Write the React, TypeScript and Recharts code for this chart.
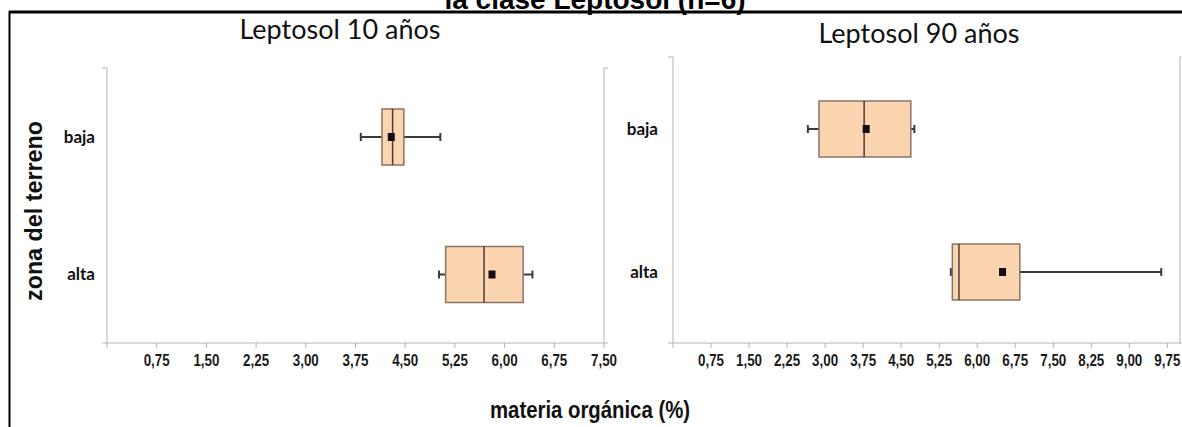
import React from 'react';
import { ComposedChart, Bar, XAxis, YAxis } from 'recharts';

const zonas = ['baja', 'alta'];

// Leptosol 10 años
const min10 = [3.83, 5.01];
const q1_10 = [4.15, 5.11];
const med10 = [4.31, 5.69];
const q3_10 = [4.48, 6.28];
const max10 = [5.03, 6.42];
const mean10 = [4.29, 5.81];

// Leptosol 90 años
const min90 = [2.66, 5.48];
const q1_90 = [2.88, 5.51];
const med90 = [3.77, 5.64];
const q3_90 = [4.69, 6.84];
const max90 = [4.76, 9.63];
const mean90 = [3.81, 6.5];

const ticks10 = [0, 0.75, 1.5, 2.25, 3, 3.75, 4.5, 5.25, 6, 6.75, 7.5];
const ticks90 = [0, 0.75, 1.5, 2.25, 3, 3.75, 4.5, 5.25, 6, 6.75, 7.5, 8.25, 9, 9.75];
const edgeTicks = [0, 1, 2];
const minorTicks = [0, 1, 2, 3, 4, 5, 6, 7, 8, 9, 10];

const build = (mn: number[], q1: number[], md: number[], q3: number[], mx: number[], mean: number[]) =>
  zonas.map((zona, i) => ({ zona, min: mn[i], q1: q1[i], median: md[i], q3: q3[i], max: mx[i], mean: mean[i] }));

const data10 = build(min10, q1_10, med10, q3_10, max10, mean10);
const data90 = build(min90, q1_90, med90, q3_90, max90, mean90);

const AXIS = '#b4b4b4';
const sans = '"Liberation Sans", Arial, sans-serif';

const fmt = (v: number) => (v === 0 ? '' : v.toFixed(2).replace('.', ','));

const EmptyTick = () => <g />;

function XTick({ x, y, payload }: any) {
  const label = fmt(payload.value);
  if (!label) return <g />;
  return (
    <text
      x={x}
      y={y}
      dy={12}
      textAnchor="middle"
      fontFamily={sans}
      fontWeight="bold"
      fontSize={16}
      fill="#1a1a1a"
      textLength={26}
      lengthAdjust="spacingAndGlyphs"
    >
      {label}
    </text>
  );
}

function BoxShape(props: any) {
  const { x, y, width, height, payload } = props;
  const k = width / (payload.max - payload.min);
  const px = (v: number) => x + (v - payload.min) * k;
  const cy = y + height / 2;
  const capH = 8;
  return (
    <g>
      <line x1={px(payload.min)} x2={px(payload.q1)} y1={cy} y2={cy} stroke="#3a3a3a" strokeWidth={2} />
      <line x1={px(payload.q3)} x2={px(payload.max)} y1={cy} y2={cy} stroke="#3a3a3a" strokeWidth={2} />
      <line x1={px(payload.min)} x2={px(payload.min)} y1={cy - capH / 2} y2={cy + capH / 2} stroke="#3a3a3a" strokeWidth={2} />
      <line x1={px(payload.max)} x2={px(payload.max)} y1={cy - capH / 2} y2={cy + capH / 2} stroke="#3a3a3a" strokeWidth={2} />
      <rect
        x={px(payload.q1)}
        y={y}
        width={px(payload.q3) - px(payload.q1)}
        height={height}
        fill="#fbd4b0"
        stroke="#8a7466"
        strokeWidth={1.5}
      />
      <line x1={px(payload.median)} x2={px(payload.median)} y1={y} y2={y + height} stroke="#4a3c38" strokeWidth={1.5} />
      <rect x={px(payload.mean) - 3.5} y={cy - 4} width={7} height={8} fill="#160c18" />
    </g>
  );
}

function Panel({ data, ticks, max, width, top, catWidth, rightMargin, tickMargin }: any) {
  return (
    <ComposedChart
      width={width}
      height={427}
      data={data}
      layout="vertical"
      margin={{ top, right: rightMargin, bottom: 54, left: 0 }}
    >
      <XAxis
        type="number"
        domain={[0, max]}
        ticks={ticks}
        interval={0}
        height={30}
        tickSize={5}
        tickMargin={6}
        stroke={AXIS}
        tick={<XTick />}
      />
      <YAxis
        yAxisId="cat"
        type="category"
        dataKey="zona"
        width={catWidth}
        stroke={AXIS}
        tickLine={false}
        tickMargin={tickMargin}
        tick={{ fontFamily: 'Lato, "Open Sans", sans-serif', fontWeight: 'bold', fontSize: 17, fill: '#111' }}
      />
      <YAxis
        yAxisId="edge"
        type="number"
        domain={[0, 2]}
        ticks={edgeTicks}
        interval={0}
        allowDataOverflow
        mirror
        tickSize={-5}
        axisLine={false}
        tick={<EmptyTick />}
        stroke={AXIS}
      />
      <YAxis
        yAxisId="minor"
        orientation="right"
        type="number"
        domain={[0, 10]}
        ticks={minorTicks}
        interval={0}
        allowDataOverflow
        width={10}
        tickSize={4}
        tick={<EmptyTick />}
        stroke={AXIS}
      />
      <Bar
        yAxisId="cat"
        dataKey={(d: any) => [d.min, d.max]}
        barSize={56}
        shape={BoxShape}
        isAnimationActive={false}
      />
    </ComposedChart>
  );
}

export default function App() {
  return (
    <div
      style={{
        position: 'absolute',
        left: 0,
        top: 0,
        width: 1182,
        height: 427,
        overflow: 'hidden',
        background: '#fff',
      }}
    >
      <div style={{ position: 'absolute', left: 0, top: 0 }}>
        <Panel data={data10} ticks={ticks10} max={7.5} width={640} top={68} catWidth={107} rightMargin={26} tickMargin={6} />
      </div>
      <div style={{ position: 'absolute', left: 600, top: 0 }}>
        <Panel data={data90} ticks={ticks90} max={10} width={600} top={57} catWidth={73} rightMargin={10} tickMargin={9} />
      </div>
      <svg
        width={1182}
        height={427}
        style={{ position: 'absolute', left: 0, top: 0, pointerEvents: 'none' }}
      >
        <text x={595} y={9} textAnchor="middle" fontFamily={sans} fontWeight="bold" fontSize={28} fill="#000">
          la clase Leptosol (n=6)
        </text>
        <line x1={9} x2={1182} y1={12} y2={12} stroke="#000" strokeWidth={3} />
        <line x1={9.5} x2={9.5} y1={11} y2={427} stroke="#000" strokeWidth={2} />
        <text x={340} y={39} textAnchor="middle" fontFamily='Lato, "Open Sans", sans-serif' fontSize={27} fill="#111">
          Leptosol 10 años
        </text>
        <text x={919} y={43} textAnchor="middle" fontFamily='Lato, "Open Sans", sans-serif' fontSize={27} fill="#111">
          Leptosol 90 años
        </text>
        <text
          transform="translate(42 211) rotate(-90)"
          textAnchor="middle"
          fontFamily={sans}
          fontWeight="bold"
          fontSize={23}
          fill="#111"
          textLength={180}
          lengthAdjust="spacingAndGlyphs"
        >
          zona del terreno
        </text>
        <text
          x={590}
          y={418}
          textAnchor="middle"
          fontFamily={sans}
          fontWeight="bold"
          fontSize={24}
          fill="#111"
          textLength={200}
          lengthAdjust="spacingAndGlyphs"
        >
          materia orgánica (%)
        </text>
      </svg>
    </div>
  );
}
